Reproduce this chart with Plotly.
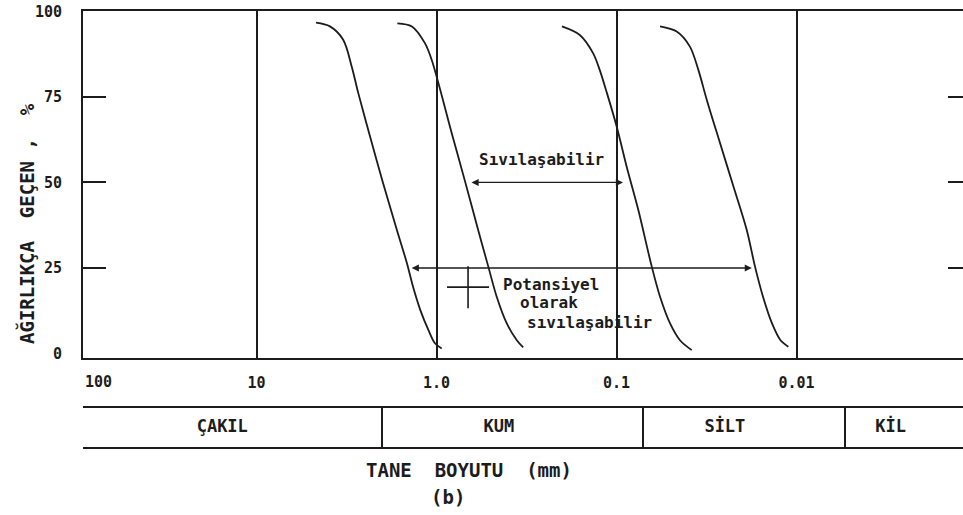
import numpy as np
import plotly.graph_objects as go

# ---- data ----
curve1_mm = [4.67, 3.91, 3.30, 2.96, 2.72, 2.34, 1.98, 1.66, 1.46, 1.35, 1.23, 1.11, 1.02, 0.936]
curve1_pct = [96.7, 95.6, 91.7, 83.9, 76.1, 63.4, 49.8, 36.1, 26.4, 19.5, 12.7, 6.9, 3.0, 1.5]
curve2_mm = [1.65, 1.37, 1.16, 1.063, 0.823, 0.690, 0.587, 0.5155, 0.463, 0.407, 0.358, 0.330]
curve2_pct = [96.5, 95.6, 90.7, 85.8, 64.4, 49.8, 36.1, 25.4, 16.6, 8.8, 3.9, 1.8]
curve3_mm = [0.201, 0.160, 0.135, 0.124, 0.113, 0.0997, 0.0878, 0.0757, 0.0637, 0.0573, 0.0504, 0.0444, 0.0382]
curve3_pct = [95.6, 93.1, 87.8, 82.9, 76.1, 66.3, 54.6, 42.0, 25.4, 16.6, 8.8, 3.9, 1.0]
curve4_mm = [0.0573, 0.0463, 0.0391, 0.0351, 0.0315, 0.0266, 0.0224, 0.0189, 0.0170, 0.01535, 0.01368, 0.01227, 0.0111]
curve4_pct = [95.6, 94.1, 89.7, 82.9, 74.1, 61.5, 48.8, 36.1, 25.4, 16.6, 8.8, 3.9, 2.0]

x_tick_vals = [10, 1, 0.1, 0.01]
x_tick_text = ["10", "1.0", "0.1", "0.01"]
y_tick_vals = [0, 25, 50, 75, 100]
y_tick_text = ["0", "25", "50", "75", "100"]
y_minor_ticks = [25, 50, 75]

soil_names = ["ÇAKIL", "KUM", "SİLT", "KİL"]
soil_label_mm = [15.5, 0.45, 0.025, 0.0030]
soil_bounds_mm = [2.0, 0.0715, 0.0054]

liq_range_mm = [0.652, 0.092]      # "Sıvılaşabilir" arrow at 50 %
liq_level = 50
pot_range_mm = [1.40, 0.0177]      # "Potansiyel olarak sıvılaşabilir" arrow at 25 %
pot_level = 25
cross_mm = [0.668]
cross_pct = [19.4]

INK = "#1c1c1c"
MONO = "DejaVu Sans Mono"
lg = np.log10

fig = go.Figure()
# curves; the last ones are attached to the overlaid tick axes (same range) so that
# those axes get drawn
curve_axes = ["y", "y", "y2", "y3"]
for (xs, ys), ya in zip([(curve1_mm, curve1_pct), (curve2_mm, curve2_pct),
                         (curve3_mm, curve3_pct), (curve4_mm, curve4_pct)], curve_axes):
    fig.add_trace(go.Scatter(x=xs, y=ys, mode="lines", yaxis=ya,
                             line=dict(color=INK, width=1.8, shape="spline", smoothing=0.9),
                             showlegend=False, hoverinfo="skip"))

fig.add_trace(go.Scatter(x=cross_mm, y=cross_pct, mode="markers",
                         marker=dict(symbol="cross-thin", size=30,
                                     line=dict(color=INK, width=1.6)),
                         showlegend=False, hoverinfo="skip"))

# soil classes table (second subplot)
fig.add_trace(go.Scatter(x=soil_label_mm, y=[0.5] * len(soil_names), text=soil_names,
                         mode="text", xaxis="x2", yaxis="y4",
                         textfont=dict(family=MONO, size=17, color=INK, weight="bold"),
                         showlegend=False, hoverinfo="skip"))

xr = [1.964, -2.925]
yr = [-1.3, 100.1]
main_bottom = (447 - 358) / 436
tab_top = (447 - 408) / 436

fig.update_layout(
    width=963, height=515,
    margin=dict(l=83, r=0, t=11, b=68),
    paper_bgcolor="white", plot_bgcolor="white",
    showlegend=False,
    xaxis=dict(type="log", range=xr, domain=[0, 1], anchor="y",
               tickvals=x_tick_vals, ticktext=x_tick_text, ticks="",
               ticklabelstandoff=10,
               tickfont=dict(family=MONO, size=15, color=INK, weight="bold"),
               showgrid=True, gridcolor=INK, gridwidth=1.6,
               showline=True, mirror=True, linecolor=INK, linewidth=2,
               zeroline=False),
    yaxis=dict(range=yr, domain=[main_bottom, 1], anchor="x",
               tickvals=y_tick_vals, ticktext=y_tick_text, ticks="",
               ticklabelstandoff=16,
               tickfont=dict(family=MONO, size=15, color=INK, weight="bold"),
               showgrid=False, zeroline=False,
               showline=True, linecolor=INK, linewidth=2),
    yaxis2=dict(range=yr, overlaying="y", anchor="x", side="left",
                tickvals=y_minor_ticks, ticks="inside", ticklen=23,
                tickwidth=1.6, tickcolor=INK, showticklabels=False,
                showgrid=False, zeroline=False, showline=False),
    yaxis3=dict(range=yr, overlaying="y", anchor="x", side="right",
                tickvals=y_minor_ticks, ticks="inside", ticklen=15,
                tickwidth=1.6, tickcolor=INK, showticklabels=False,
                showgrid=False, zeroline=False, showline=False),
    xaxis2=dict(type="log", range=xr, domain=[0, 1], anchor="y4", matches="x",
                tickvals=soil_bounds_mm, ticks="", showticklabels=False,
                showgrid=True, gridcolor=INK, gridwidth=1.6,
                showline=True, mirror=True, linecolor=INK, linewidth=2,
                zeroline=False),
    yaxis4=dict(range=[0, 1], domain=[0, tab_top], anchor="x2",
                showticklabels=False, ticks="", showgrid=False,
                zeroline=False, showline=False),
)

# gap in the 0.1 mm line behind the "Potansiyel..." text
fig.add_shape(type="rect", xref="x", yref="y",
              x0=lg(0.106), x1=lg(0.094), y0=5.2, y1=24.4,
              fillcolor="white", line=dict(width=0), layer="between")

# double-headed arrows
for (a, b), lvl in [(liq_range_mm, liq_level), (pot_range_mm, pot_level)]:
    fig.add_annotation(x=lg(b), y=lvl, ax=lg(a), ay=lvl, xref="x", yref="y",
                       axref="x", ayref="y", text="", showarrow=True,
                       arrowhead=2, arrowsize=1.1, arrowwidth=1.3,
                       arrowcolor=INK, arrowside="end+start",
                       startarrowhead=2, startarrowsize=1.1,
                       standoff=0, startstandoff=0)

txt_font = dict(family=MONO, size=16, color=INK, weight="bold")
for label, xmm, ypct in [("Sıvılaşabilir", 0.2626, 56.6),
                         ("Potansiyel", 0.231, 20.3),
                         ("olarak", 0.237, 14.8),
                         ("sıvılaşabilir", 0.142, 9.2)]:
    fig.add_annotation(x=lg(xmm), y=ypct, xref="x", yref="y", text=label,
                       showarrow=False, font=txt_font, borderpad=0,
                       xanchor="center", yanchor="middle")

# "100" tick label at the left end of the axis
fig.add_annotation(x=(98 - 83) / 880, y=(447 - 382) / 436, xref="paper", yref="paper",
                   text="100", showarrow=False, xanchor="center", yanchor="middle",
                   font=dict(family=MONO, size=15, color=INK, weight="bold"))

# axis titles
fig.add_annotation(x=(26 - 83) / 880, y=(447 - 224) / 436, xref="paper", yref="paper",
                   text="AĞIRLIKÇA\u00a0\u00a0GEÇEN\u00a0,\u00a0\u00a0%", textangle=-90,
                   showarrow=False, xanchor="center", yanchor="middle",
                   font=dict(family=MONO, size=19, color=INK, weight="bold"))
fig.add_annotation(x=(469 - 83) / 880, y=(447 - 470) / 436, xref="paper", yref="paper",
                   text="TANE\u00a0\u00a0BOYUTU\u00a0\u00a0(mm)", showarrow=False,
                   xanchor="center", yanchor="middle",
                   font=dict(family=MONO, size=19, color=INK, weight="bold"))
fig.add_annotation(x=(448 - 83) / 880, y=(447 - 497) / 436, xref="paper", yref="paper",
                   text="(b)", showarrow=False, xanchor="center", yanchor="middle",
                   font=dict(family=MONO, size=19, color=INK, weight="bold"))

fig.write_html("out.html")
